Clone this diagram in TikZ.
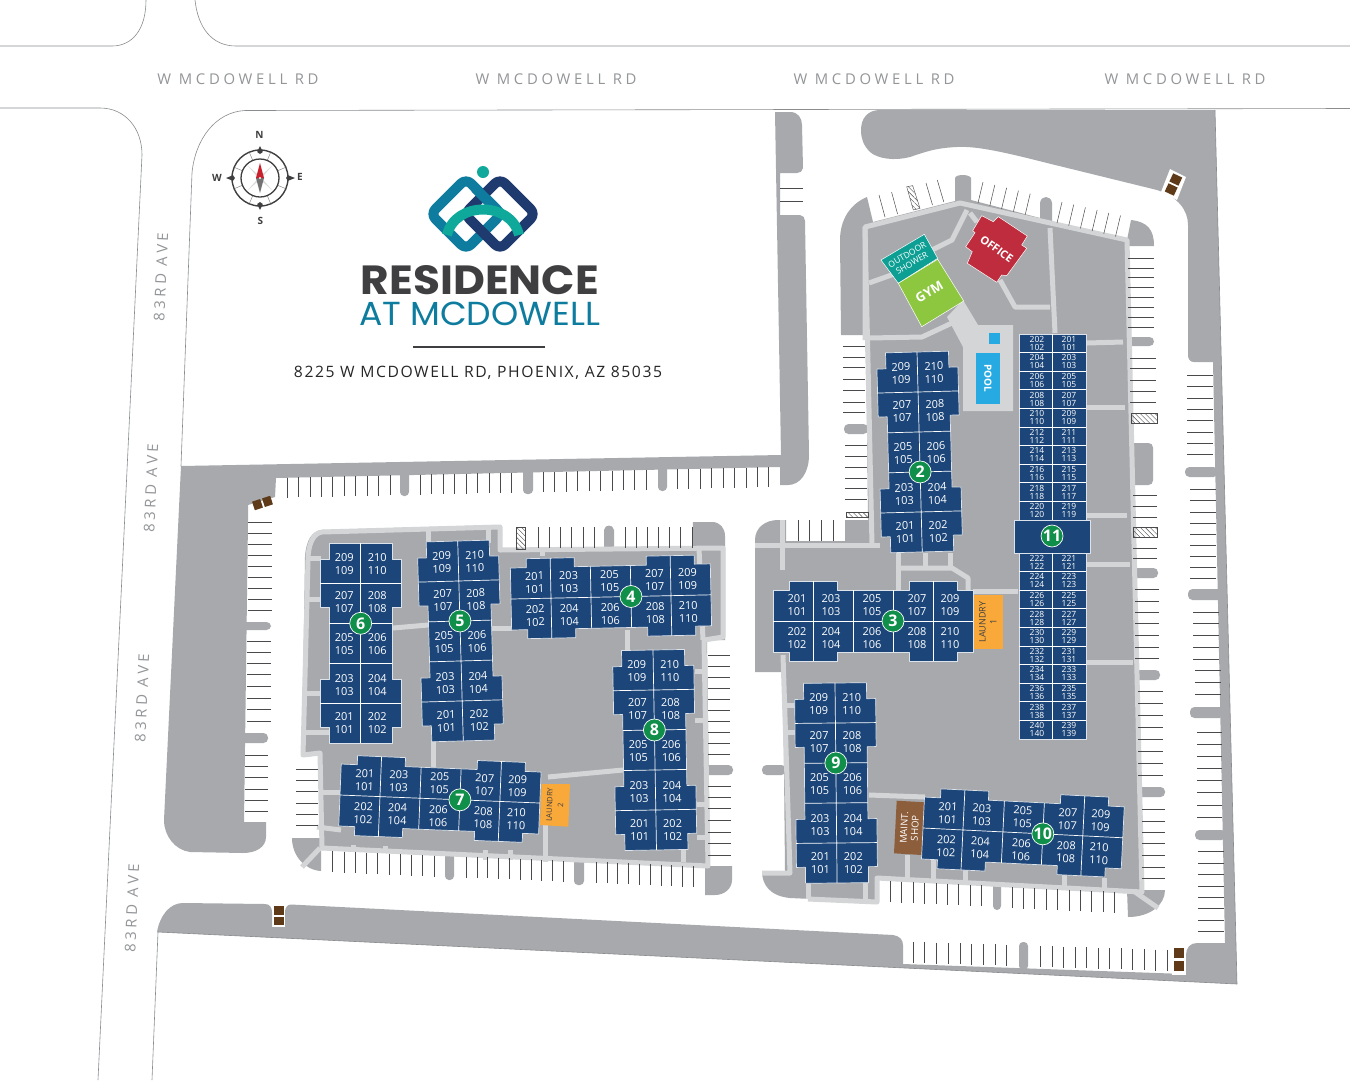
\documentclass[tikz,border=0pt]{standalone}
\usepackage{fontspec}
\usepackage{graphicx}
\usetikzlibrary{patterns.meta}
\setmainfont{Open Sans}
\newfontfamily\roadf[LetterSpace=25]{Open Sans}
\newfontfamily\addrf[LetterSpace=10]{Open Sans}
\newfontfamily\logof{Poppins}
\definecolor{lot}{HTML}{A7A9AC}
\definecolor{walkc}{HTML}{D3D5D7}
\definecolor{navyb}{HTML}{1C4679}
\definecolor{roadline}{HTML}{8A8C8E}
\definecolor{roadtext}{HTML}{939598}
\definecolor{stallc}{HTML}{4A4A4C}
\definecolor{greenb}{HTML}{0F8F4A}
\definecolor{binb}{HTML}{5E3A18}
\definecolor{logoblue}{HTML}{0E7C9E}
\definecolor{logonavy}{HTML}{1F3A6E}
\definecolor{logoteal}{HTML}{0FA99B}
\definecolor{logodark}{HTML}{3F3F41}
\definecolor{officered}{HTML}{BE2C3E}
\definecolor{showerteal}{HTML}{0E9F94}
\definecolor{gymgreen}{HTML}{8DC63F}
\definecolor{poolblue}{HTML}{27AAE1}
\definecolor{laundryo}{HTML}{F9A83A}
\definecolor{maintb}{HTML}{8D5E3C}
\definecolor{needlered}{HTML}{C8202C}
\tikzset{
 lotfill/.style={fill=lot,draw=none},
 walk/.style={draw=walkc,line width=5pt,line join=round},
 stallline/.style={draw=stallc,line width=0.5pt},
 road/.style={draw=roadline,line width=0.6pt},
 bin/.style={fill=binb,draw=none},
 hatchstall/.style={draw=stallc,line width=0.4pt,pattern={Lines[angle=-45,distance=3.5pt,line width=0.4pt]},pattern color=stallc},
 unitlab/.style={text=white,align=center,inner sep=0pt,transform shape,font=\fontsize{11}{13}\selectfont},
 smallunit/.style={text=white,align=center,inner sep=0pt,font=\fontsize{8.5}{8}\selectfont},
 badge/.style={circle,fill=greenb,draw=white,line width=0.7pt,minimum size=22pt,inner sep=0pt,text=white,font=\fontsize{16}{16}\selectfont\bfseries},
 divider/.style={draw=white,line width=0.7pt},
 unitbody/.style={fill=navyb,draw=white!85!navyb,line width=0.7pt,line join=round},
 facility/.style={draw=white,line width=0.5pt},
}
% horizontal building: origin at left end, on the centre line
\newcommand\hbldg[5]{%
 \begin{scope}[shift={(#1,#2)},rotate=#3]
  \path[unitbody] (0,-31)--(16,-31)--(16,-40)--(64,-40)--(64,-31)--(136,-31)--(136,-40)--(184,-40)--(184,-31)--(200,-31)--(200,31)--(184,31)--(184,40)--(136,40)--(136,31)--(64,31)--(64,40)--(16,40)--(16,31)--(0,31)--cycle;
  \draw[divider] (0,0)--(200,0) (40,-40)--(40,40) (80,-31)--(80,31) (120,-31)--(120,31) (160,-40)--(160,40);
  \foreach \xx/\aa/\bb in {24/201/202,58/203/204,99/205/206,144/207/208,177/209/210}{
   \pgfmathtruncatemacro\ca{\aa-100}\pgfmathtruncatemacro\cb{\bb-100}
   \node[unitlab] at (\xx,-16) {\aa\\\ca};
   \node[unitlab] at (\xx,17) {\bb\\\cb};
  }
  \node[badge] at (#5,0) {#4};
 \end{scope}}
% vertical building: origin at top end, on the centre line
\newcommand\vbldg[5]{%
 \begin{scope}[shift={(#1,#2)},rotate=#3]
  \path[unitbody] (-31.5,0)--(-31.5,16)--(-40.5,16)--(-40.5,64)--(-31.5,64)--(-31.5,136)--(-40.5,136)--(-40.5,184)--(-31.5,184)--(-31.5,200)--(31.5,200)--(31.5,184)--(40.5,184)--(40.5,136)--(31.5,136)--(31.5,64)--(40.5,64)--(40.5,16)--(31.5,16)--(31.5,0)--cycle;
  \draw[divider] (0,0)--(0,200) (-40.5,40)--(40.5,40) (-31.5,80)--(31.5,80) (-31.5,120)--(31.5,120) (-40.5,160)--(40.5,160);
  \foreach \yy/\aa/\bb in {21/209/210,59/207/208,101/205/206,142/203/204,180/201/202}{
   \pgfmathtruncatemacro\ca{\aa-100}\pgfmathtruncatemacro\cb{\bb-100}
   \node[unitlab] at (-16.5,\yy) {\aa\\\ca};
   \node[unitlab] at (16.5,\yy) {\bb\\\cb};
  }
  \node[badge] at (0,#5) {#4};
 \end{scope}}
% row of stall lines: x0,y0,dx,dy,lx,ly,n
\newcommand\stallrow[7]{%
 \foreach \i in {1,...,#7}{
  \draw[stallline] ({#1+(\i-1)*#3},{#2+(\i-1)*#4}) -- ++(#5,#6);
 }}
% horizontal stall lines: x1,x2,list of y
\newcommand\hst[3]{\foreach \yy in {#3}{\draw[stallline] (#1,\yy)--(#2,\yy);}}
% rounded bump from x1 to x2 at y1..y2
\newcommand\bumpl[4]{\fill[lot,rounded corners=4.5pt] (#2,#3)--(#1,#3)--(#1,#4)--(#2,#4)--cycle;}
\newcommand\bumpd[4]{\fill[lot,rounded corners=4pt] (#1,#3)--(#1,#4)--(#2,#4)--(#2,#3)--cycle;}
\begin{document}
\begin{tikzpicture}[x=1pt,y=-1pt]
\useasboundingbox (0,0) rectangle (1350,1080);
\fill[white] (0,0) rectangle (1350,1080);
%% ---- gray lots
% north-west strip
\path[lotfill] (181,466)--(781,455)--(775,112)--(790,112) .. controls (798,112) and (802,118) .. (802,125)--(803,168) .. controls (803,171) and (800,173) .. (797,173)--(780,173)--(780,215)--(800,215) .. controls (803,215) and (805,218) .. (805,221)--(809,455) .. controls (809,473) and (800,485) .. (788,485)--(780,485)--(780,467)--(276,478)--(275,497)--(248,505)--(248,521)--(244,822)--(266,822)--(266,837) .. controls (266,847) and (256,853) .. (243,853)--(190,852) .. controls (175,850) and (164,836) .. (164,820)--cycle;
% outer wall
\path[lotfill] (1215,110)--(1237,984)--(157,932) .. controls (160,915) and (170,903) .. (183,903)--(265,904) .. controls (270,904) and (272,908) .. (272,912)--(272,927)--(285,927)--(285,912) .. controls (285,908) and (287,904.5) .. (291,904.5)--(893,935) .. controls (899,936) and (903,939) .. (903,945)--(903,964)--(1185,974)--(1186,955) .. controls (1186,948) and (1190,943) .. (1197,943)--(1225,943)--(1213,362)--(1194,362) .. controls (1190,362) and (1188,359) .. (1188,355)--(1188,225) .. controls (1188,210) and (1178,197) .. (1157,190)--(1043,162) .. controls (1000,151) and (975,146) .. (957,147) .. controls (935,148) and (925,152) .. (910,157) .. controls (895,161) and (878,159) .. (870,152) .. controls (863,145) and (861,138) .. (861,130) .. controls (861,118) and (868,110) .. (880,110)--cycle;
% right block
\path[lotfill] (840,240) .. controls (840,220) and (850,204) .. (867,197)--(873,222)--(955,201)--(955,178) .. controls (956,174) and (969,174) .. (971,178)--(971,200)--(1040,218)--(1040,203) .. controls (1041,195) and (1051,195) .. (1052,203)--(1052,222)--(1127,240)--(1131,220) .. controls (1148,222) and (1154,230) .. (1154,246)--(1127,246)--(1142,892)--(877,878)--(877,902)--(790,898) .. controls (770,896) and (762,885) .. (762,871)--(785,871)--(783,672)--(755,672)--(755,540) .. controls (755,528) and (765,520) .. (778,520)--(786,520)--(786,541)--(845,541)--(845,520)--(868,520)--(866,335)--(841,335)--cycle;
\path[lotfill] (1138,890)--(1165,890) .. controls (1165,905) and (1150,917) .. (1128,917)--(1127,890)--cycle;
% left block
\path[lotfill] (305,557) .. controls (306,540) and (312,531) .. (322,530)--(500,525)--(501,550)--(604,549)--(604,530) .. controls (605,524) and (613,524) .. (614,530)--(614,549)--(692,547)--(693,522)--(712,522) .. controls (720,522) and (725,528) .. (725,536)--(725,640)--(707,640)--(710,867)--(322,850)--(320,755)--(302,757)--cycle;
\path[lotfill] (705,866)--(732,866)--(732,880) .. controls (732,888) and (725,895) .. (715,895)--(705,895)--cycle;
\path[lotfill] (292,838)--(321,838)--(321,871) .. controls (305,870) and (292,856) .. (292,838)--cycle;
% bumps on the west strip and along the stalls
\bumpl{232}{271}{622}{630}
\bumpl{232}{268}{733}{743}
\bumpd{400}{409}{470}{496}
\bumpd{523}{533}{468}{494}
\bumpd{658}{667}{465}{491}
\bumpl{844}{868}{424}{434}
\bumpl{1125}{1154}{337}{346}
\bumpl{1125}{1153}{443}{485}
\bumpl{1130}{1158}{568}{578}
\bumpl{1130}{1160}{670}{680}
\bumpl{1135}{1165}{787}{797}
\bumpl{1185}{1218}{467}{477}
\bumpl{1188}{1222}{589}{600}
\bumpl{1190}{1224}{707}{718}
\bumpl{1195}{1226}{830}{840}
\bumpl{762}{786}{765}{775}
\bumpl{702}{733}{765}{775}
\bumpd{445}{454}{850}{880}
\bumpd{574}{584}{855}{885}
\bumpd{993}{1001}{880}{910}
\bumpd{1019}{1028}{942}{970}
% bin mats
\fill[white] (1170,169)--(1186,177)--(1177,200)--(1161,192)--cycle;
\fill[white] (1172,946)--(1186,946)--(1186,975)--(1172,975)--cycle;
%% ---- walkways
\path[walk] (865,340)--(865,227)--(960,203)--(1127,240)--(1142,892)--(877,878)--(877,902)--(808,899);
\path[walk] (865,227)--(872,545);
\path[walk] (755,545)--(880,545);
\path[walk] (782,520)--(782,570);
\path[walk] (783,655)--(790,873)--(762,873);
\path[walk] (808,880)--(808,899);
\path[walk] (865,880)--(865,899);
\path[walk] (967,210)--(952,240)--(932,250);
\path[walk] (869,283)--(897,273);
\path[walk] (970,213)--(977,222);
\path[walk] (1000,280)--(1015,307)--(1050,307);
\path[walk] (1050,228)--(1055,333);
\path[walk] (869,338)--(922,337)--(952,323);
\path[walk] (1087,343)--(1123,342);
\path[walk] (1087,407)--(1125,407);
\path[walk] (1087,515)--(1127,515);
\path[walk] (1087,564)--(1130,564);
\path[walk] (1087,662)--(1133,662);
\path[walk] (900,568)--(952,568)--(968,578)--(968,592);
\path[walk] (898,553)--(898,590);
\path[walk] (925,553)--(925,568);
\path[walk] (950,553)--(950,568);
\path[walk] (973,591)--(1018,591);
\path[walk] (869,795)--(925,797);
\path[walk] (907,855)--(907,880);
\path[walk] (933,860)--(933,880);
\path[walk] (965,870)--(965,882);
\path[walk] (1064,875)--(1064,887);
\path[walk] (1104,878)--(1104,890);
\path[walk] (783,705)--(796,705);
\path[walk] (783,732)--(796,732);
\path[walk] (1135,892)--(1158,908);
\fill[walkc] (947,317)--(963,300)--(978,325)--(1013,325)--(1013,411)--(963,411)--(963,347)--cycle;
% left block walks
\path[walk] (308,560) .. controls (308,545) and (313,533) .. (322,532)--(500,527)--(500,550)--(723,548)--(723,637)--(704,640)--(708,866)--(322,848)--(320,753)--(303,755)--(308,560);
\path[walk] (699,548)--(703,640);
\path[walk] (306,558)--(321,558);
\path[walk] (306,599)--(321,599);
\path[walk] (305,693)--(321,693);
\path[walk] (303,732)--(329,732);
\path[walk] (393,628)--(428,625);
\path[walk] (492,628)--(512,628);
\path[walk] (428,530)--(428,543);
\path[walk] (488,530)--(488,543);
\path[walk] (627,630)--(627,652);
\path[walk] (542,550)--(542,556);
\path[walk] (433,740)--(433,767);
\path[walk] (323,792)--(341,792);
\path[walk] (317,827)--(341,830);
\path[walk] (353,845)--(353,851);
\path[walk] (385,846)--(385,853);
\path[walk] (485,850)--(485,860);
\path[walk] (510,850)--(510,860);
\path[walk] (545,825)--(545,862);
\path[walk] (548,777)--(623,770);
\path[walk] (695,671)--(705,671);
\path[walk] (695,720)--(705,720);
\path[walk] (697,804)--(706,804);
\path[walk] (697,837)--(707,837);
\path[walk] (683,850)--(683,862);
\path[walk] (302,867)--(320,848);
%% ---- stall lines
% north strip
\stallrow{287}{477.5}{11.42}{-0.24}{0}{20}{10}
\stallrow{420.3}{474.5}{11.42}{-0.24}{0}{20}{9}
\stallrow{543.3}{472}{11.42}{-0.24}{0}{20}{10}
\stallrow{677.3}{469}{11.42}{-0.24}{0}{20}{9}
% west strip
\hst{248}{272}{522,533,544,555,566,577,588,599,610}
\hst{247}{271}{641,652,663,674,686,698,709,721}
\hst{245}{268}{755,766,777,789,800,811}
% vertical strip
\hst{780}{803}{188,201}
% left block
\stallrow{538.3}{527}{11.13}{0}{0}{21}{6}
\stallrow{625}{527}{11.13}{0}{0}{21}{7}
\hst{708}{730}{655,666,677,688,699,710,721,732,743,754}
\hst{708}{731}{786,797,808,820,832,843,855}
\hst{296}{318}{769,780,791,803,814,825}
\stallrow{332.7}{851}{11.25}{0.5}{0}{21}{10}
\stallrow{466}{856.5}{10.8}{0.48}{0}{21}{10}
\stallrow{596}{862}{10.8}{0.48}{0}{21}{10}
% right block
\stallrow{879}{195}{12.6}{-2.9}{6}{22}{2}
\stallrow{926}{183}{11.3}{-3}{6.5}{22}{2}
\stallrow{983}{182}{11.8}{2.9}{-5}{21}{5}
\stallrow{1062}{202}{11.7}{2.7}{-5}{21}{6}
\hst{843}{865}{346,357,367,379,390,402,412}
\hst{845}{867}{445,456,467,478,488,499}
\stallrow{798}{520}{11.7}{0}{0}{21}{4}
\hst{1128}{1154}{258,268,277,287,297,307,317,327}
\hst{1130}{1156}{358,368,380,391,402}
\hst{1133}{1157}{495,506,517,548,558}
\hst{1135}{1159}{589,601,612,623,635,647,658}
\hst{1138}{1163}{691,703,715,727,739,751,763,775}
\hst{1142}{1165}{809,821,832,843,855,867,878}
\hst{1187}{1213}{375,386,398,409,420,432,443,454}
\hst{1190}{1216}{489,500,512,523,534,545,556,567,578}
\hst{1193}{1219}{612,623,635,647,659}
\hst{1195}{1221}{670,682,694}
\hst{1197}{1222}{732,744,756,768,780,792,805,817}
\hst{1198}{1224}{851,863,874,886,897,908,920,931}
\stallrow{890}{881}{11.45}{0.55}{0}{21}{9}
\stallrow{1012}{887}{11.35}{0.55}{0}{21}{10}
\stallrow{913}{942}{11.7}{0.35}{0}{21}{9}
\stallrow{1040.7}{946}{11.5}{0.35}{0}{21}{12}
% hatched stalls
\path[hatchstall] (516,527) rectangle (525,549);
\path[hatchstall] (906.7,186.7)--(912.7,185.7)--(920,208.3)--(913.3,210)--cycle;
\path[hatchstall] (846,512) rectangle (868,517.5);
\path[hatchstall] (1131,413) rectangle (1157,423);
\path[hatchstall] (1133,527) rectangle (1157,537);
% bins
\begin{scope}[shift={(1173.5,184.5)},rotate=-25]
 \fill[bin] (-5,-10) rectangle (5,-1);
 \fill[bin] (-5,1) rectangle (5,10);
\end{scope}
\begin{scope}[shift={(262.5,503)},rotate=18]
 \fill[bin] (-9.5,-4.5) rectangle (-1,4.5);
 \fill[bin] (1,-4.5) rectangle (9.5,4.5);
\end{scope}
\fill[bin] (274,906) rectangle (284,914.5);
\fill[bin] (274,917) rectangle (283.5,925);
\fill[bin] (1174,948) rectangle (1184,958);
\fill[bin] (1173.5,961) rectangle (1183.5,971);
%% ---- roads
\draw[road] (0,46)--(112,46) .. controls (132,46) and (146,30) .. (146,0);
\draw[road] (195,0) .. controls (198,28) and (212,46) .. (236,46)--(1350,46);
\draw[road] (0,108)--(100,108) .. controls (125,108) and (142,128) .. (142,155)--(98,1080);
\draw[road] (1350,108.5)--(245,110.5) .. controls (215,112) and (195,140) .. (192,173)--(181,466);
\draw[road] (158,932)--(152,1080);
\draw[road] (158,932)--(1237,984);
\draw[road] (1215,110)--(1237,984);
%% ---- facilities
\path[facility,fill=officered] (981.7,215.7)--(972.7,230.7)--(975,232.7)--(965.7,246.7)--(972.3,251.7)--(967.3,263.3)--(996.7,282.3)--(1001.7,275)--(1006.7,275.7)--(1026.7,248.3)--(1021.7,245)--(1027.3,236)--(998.3,216.7)--(993.3,221.7)--cycle;
\node[rotate=-36,text=white,inner sep=0pt,font=\fontsize{11}{11}\selectfont\bfseries] (office) at (996.7,249) {OFFICE};
\path[facility,fill=showerteal] (881,260)--(924.3,234.3)--(937.7,258.3)--(898.3,283.3)--cycle;
\node[rotate=30,text=white,inner sep=0pt,align=center,font=\fontsize{8.5}{9.5}\selectfont] (shower) at (909.5,259) {OUTDOOR\\SHOWER};
\path[facility,fill=gymgreen] (898.3,283.3)--(937.7,259.3)--(963.7,301)--(921.7,326.7)--cycle;
\node[rotate=31,text=white,inner sep=0pt,font=\fontsize{13}{13}\selectfont\bfseries] (gym) at (929.3,292) {GYM};
\fill[poolblue] (976,352.7) rectangle (1000,404);
\fill[poolblue] (989,332.7) rectangle (1000,344.3);
\node[rotate=-90,text=white,inner sep=0pt,font=\fontsize{10}{10}\selectfont\bfseries] (pool) at (988,378) {POOL};
\fill[laundryo] (974,595) rectangle (1002.7,649);
\node[rotate=90,text=logodark,inner sep=0pt,align=center,font=\fontsize{9}{11}\selectfont] (laundry1) at (988,622) {LAUNDRY\\1};
\fill[laundryo] (541.7,784)--(570,784)--(568.3,826.7)--(540,825)--cycle;
\node[rotate=88,text=logodark,inner sep=0pt,align=center,font=\fontsize{7.5}{11}\selectfont] (laundry2) at (555,805) {LAUNDRY\\2};
\fill[maintb] (896.7,800.7)--(925,802.3)--(921.7,855)--(894,853.3)--cycle;
\node[rotate=87,text=white,inner sep=0pt,align=center,font=\fontsize{9.5}{11}\selectfont] (maint) at (909.5,828) {MAINT.\\SHOP};
%% ---- buildings
\vbldg{917}{352}{1.5}{2}{120}
\hbldg{773}{621}{0}{3}{120}
\hbldg{511}{599}{1.2}{4}{120}
\vbldg{457.7}{541}{1.6}{5}{80}
\vbldg{360.7}{543.3}{0}{6}{80}
\hbldg{340}{795}{-2.3}{7}{120}
\vbldg{653}{650}{1}{8}{80}
\vbldg{835}{683}{0.6}{9}{80}
\hbldg{923}{828}{-2.8}{10}{120}
% building 11
\path[unitbody] (1019,334) rectangle (1086,520);
\path[unitbody] (1019,553) rectangle (1086,739);
\path[unitbody] (1014,520) rectangle (1090,553);
\draw[divider] (1052.5,334)--(1052.5,520) (1052.5,553)--(1052.5,739);
\foreach \k in {1,...,10}{
 \pgfmathsetmacro\ty{334+(\k-0.5)*18.6}
 \pgfmathtruncatemacro\ea{200+2*\k}\pgfmathtruncatemacro\eb{100+2*\k}
 \pgfmathtruncatemacro\oa{199+2*\k}\pgfmathtruncatemacro\ob{99+2*\k}
 \node[smallunit] at (1037,\ty) {\ea\\\eb};
 \node[smallunit] at (1069,\ty) {\oa\\\ob};
 \pgfmathsetmacro\ly{334+\k*18.6}
 \ifnum\k<10 \draw[divider] (1019,\ly)--(1086,\ly);\fi
 \pgfmathsetmacro\tz{553+(\k-0.5)*18.6}
 \pgfmathtruncatemacro\ec{220+2*\k}\pgfmathtruncatemacro\ed{120+2*\k}
 \pgfmathtruncatemacro\oc{219+2*\k}\pgfmathtruncatemacro\od{119+2*\k}
 \node[smallunit] at (1037,\tz) {\ec\\\ed};
 \node[smallunit] at (1069,\tz) {\oc\\\od};
 \pgfmathsetmacro\lz{553+\k*18.6}
 \ifnum\k<10 \draw[divider] (1019,\lz)--(1086,\lz);\fi
}
\node[badge] (b11) at (1052,536) {11};
%% ---- road names
\foreach \xc in {238,556,874,1185}{
 \node[text=roadtext,inner sep=0pt] at (\xc,79) {\resizebox{161pt}{!}{\fontsize{14}{14}\roadf W MCDOWELL RD}};
}
\foreach \xc/\yc in {161/277,151/488,142/698,132/908}{
 \node[text=roadtext,inner sep=0pt,rotate=87.5] at (\xc,\yc) {\resizebox{89pt}{!}{\fontsize{14}{14}\roadf 83RD AVE}};
}
%% ---- logo
\begin{scope}[line join=round]
 \draw[logoblue,line width=10pt,rounded corners=7pt] (430.5,214)--(466,178.5)--(501.5,214)--(466,249.5)--cycle;
 \draw[logonavy,line width=10pt,rounded corners=7pt] (464.5,214)--(500,178.5)--(535.5,214)--(500,249.5)--cycle;
 \draw[logoblue,line width=10pt,line cap=butt] (475,188)--(504,217);
 \draw[logoteal,line width=10pt] (447,235) .. controls (455,201) and (511,201) .. (519,235);
 \fill[logoteal] (483,172) circle (6);
\end{scope}
\node[inner sep=0pt,text=logodark] (logoa) at (480,280) {\resizebox{238pt}{29pt}{\logof\bfseries RESIDENCE}};
\node[inner sep=0pt,text=logoblue] (logob) at (479.5,313.5) {\resizebox{241pt}{23.5pt}{\logof AT MCDOWELL}};
\draw[logodark,line width=1.2pt] (413,347)--(545,347);
\node[inner sep=0pt,text=black!85] (addr) at (478,373) {\resizebox{368pt}{!}{\fontsize{16}{16}\addrf 8225 W MCDOWELL RD, PHOENIX, AZ 85035}};
%% ---- compass
\begin{scope}[shift={(260,178)}]
 \fill[white] (0,0) circle (28);
 \foreach \a in {22.5,67.5,...,337.5}{\draw[black!55,line width=0.4pt] (\a:19) -- (\a:27);}
 \foreach \a in {45,135,225,315}{\fill[black!15] (\a:18)--(\a+12:4)--(\a-12:4)--cycle;}
 \draw[logodark,line width=1.4pt] (0,0) circle (28);
 \draw[logodark,line width=1.3pt] (0,0) circle (19);
 \fill[logodark] (0,-32)--(2.8,-26)--(0,-24)--(-2.8,-26)--cycle;
 \fill[logodark] (0,32)--(2.8,26)--(0,24)--(-2.8,26)--cycle;
 \fill[logodark] (-34,0)--(-27,-2.8)--(-25,0)--(-27,2.8)--cycle;
 \fill[logodark] (35,0)--(28,-2.8)--(26,0)--(28,2.8)--cycle;
 \fill[black!55] (-4,0)--(0,15)--(4,0)--cycle;
 \fill[needlered] (-4,0)--(0,-15)--(4,0)--cycle;
 \fill[white] (0,0) circle (1.2);
\end{scope}
\node[inner sep=0pt,text=logodark,font=\fontsize{10}{10}\selectfont\bfseries] (compn) at (259.5,135) {N};
\node[inner sep=0pt,text=logodark,font=\fontsize{10}{10}\selectfont\bfseries] (comps) at (260.5,220.5) {S};
\node[inner sep=0pt,text=logodark,font=\fontsize{10}{10}\selectfont\bfseries] (compw) at (217,178) {W};
\node[inner sep=0pt,text=logodark,font=\fontsize{10}{10}\selectfont\bfseries] (compe) at (300,177) {E};
\end{tikzpicture}
\end{document}
